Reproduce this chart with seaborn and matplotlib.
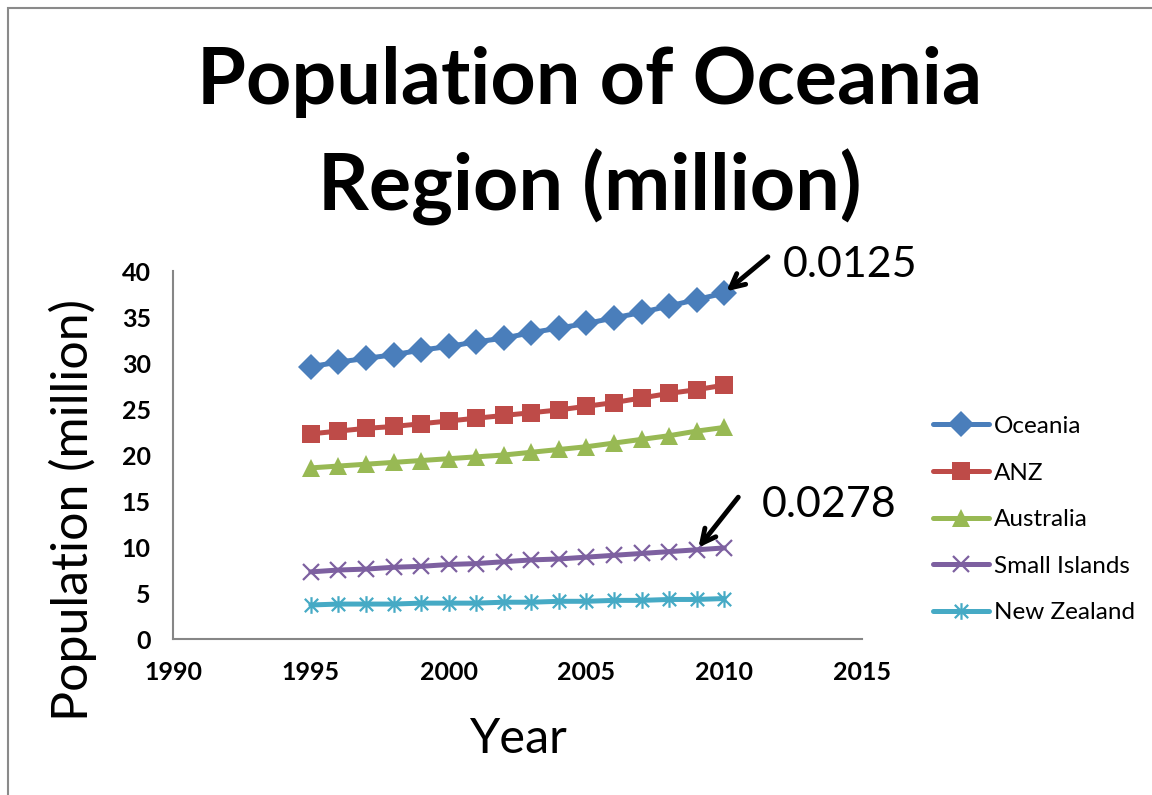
import matplotlib
matplotlib.use('Agg')
import matplotlib.pyplot as plt
from matplotlib.path import Path
from matplotlib.patches import Rectangle
import seaborn as sns

years = list(range(1995, 2011))
oceania = [29.6, 30.1, 30.5, 30.9, 31.4, 31.8, 32.3, 32.7, 33.3, 33.8, 34.3, 34.9, 35.5, 36.2, 36.9, 37.6]
anz = [22.3, 22.6, 22.9, 23.1, 23.4, 23.7, 24.0, 24.3, 24.6, 24.9, 25.3, 25.7, 26.2, 26.7, 27.1, 27.6]
australia = [18.6, 18.8, 19.0, 19.2, 19.4, 19.6, 19.8, 20.0, 20.3, 20.6, 20.9, 21.3, 21.7, 22.1, 22.6, 23.0]
small_islands = [7.3, 7.5, 7.6, 7.8, 7.9, 8.1, 8.2, 8.4, 8.6, 8.7, 8.9, 9.1, 9.3, 9.5, 9.7, 9.9]
new_zealand = [3.7, 3.8, 3.8, 3.8, 3.9, 3.9, 3.9, 4.0, 4.0, 4.1, 4.1, 4.2, 4.2, 4.3, 4.3, 4.4]

series_names = ['Oceania', 'ANZ', 'Australia', 'Small Islands', 'New Zealand']
series_vals = [oceania, anz, australia, small_islands, new_zealand]
colors = ['#4A7EBB', '#BE4B48', '#98B954', '#7D60A0', '#46AAC5']

# excel style star marker: an x with a vertical bar
star = Path([(-1, -1), (1, 1), (-1, 1), (1, -1), (0, -1.25), (0, 1.25)],
            [Path.MOVETO, Path.LINETO, Path.MOVETO, Path.LINETO, Path.MOVETO, Path.LINETO])
markers = ['D', 's', '^', 'x', star]
msizes = [13, 13, 13, 12, 12]

sns.set_style('white')
plt.rcParams['font.family'] = ['Lato', 'DejaVu Sans']
plt.rcParams['text.color'] = 'black'
plt.rcParams['axes.labelcolor'] = 'black'
plt.rcParams['xtick.color'] = 'black'
plt.rcParams['ytick.color'] = 'black'

fig = plt.figure(figsize=(11.52, 7.95), dpi=100)
ax = fig.add_axes([0.1502, 0.1962, 0.5981, 0.4629])

for name, vals, c, m, ms in zip(series_names, series_vals, colors, markers, msizes):
    sns.lineplot(x=years, y=vals, ax=ax, color=c, marker=m, markersize=ms,
                 markeredgecolor=c, markeredgewidth=1.6 if m in ('x',) or m is star else 0,
                 linewidth=3.6, label=name)

ax.set_xlim(1990, 2015)
ax.set_ylim(0, 40)
ax.set_xticks(range(1990, 2016, 5))
ax.set_yticks(range(0, 41, 5))
ax.tick_params(axis='both', length=0, labelsize=18, pad=16)
for lab in ax.get_xticklabels() + ax.get_yticklabels():
    lab.set_fontweight('bold')
for s in ['top', 'right']:
    ax.spines[s].set_visible(False)
for s in ['left', 'bottom']:
    ax.spines[s].set_color('#868686')
    ax.spines[s].set_linewidth(1.5)
ax.grid(False)

ax.set_xlabel('Year', fontsize=35)
ax.set_ylabel('Population (million)', fontsize=36)
ax.xaxis.set_label_coords(0.5, -0.213)
ax.yaxis.set_label_coords(-0.111, 0.35)

ax.legend(loc='center left', bbox_to_anchor=(0.81, 0.3465), bbox_transform=fig.transFigure,
          frameon=False, fontsize=17.5, handlelength=2.3, labelspacing=1.05,
          borderpad=0, borderaxespad=0, handletextpad=0.2)

fig.text(0.512, 1 - 136 / 795, 'Population of Oceania\nRegion (million)', ha='center', va='center',
         fontsize=57, fontweight='bold', linespacing=1.5)

# growth rate annotations
arrow = dict(arrowstyle='->,head_width=0.5,head_length=1.0', color='black', lw=3.5)
ax.annotate('', xy=(2010, oceania[-1]), xytext=(770 / 1152, 1 - 255 / 795),
            textcoords='figure fraction', arrowprops=arrow)
fig.text(783 / 1152, 1 - 265 / 795, '0.0125', ha='left', va='center', fontsize=31)
ax.annotate('', xy=(2009, small_islands[-2]), xytext=(740 / 1152, 1 - 495 / 795),
            textcoords='figure fraction', arrowprops=arrow)
fig.text(762 / 1152, 1 - 505 / 795, '0.0278', ha='left', va='center', fontsize=31)

fig.patches.append(Rectangle((8 / 1152, -0.1), 1.2, 1 - 8 / 795 + 0.1, transform=fig.transFigure,
                             fill=False, edgecolor='#8a8a8a', linewidth=1.5))

fig.savefig('out.png', dpi=100)
